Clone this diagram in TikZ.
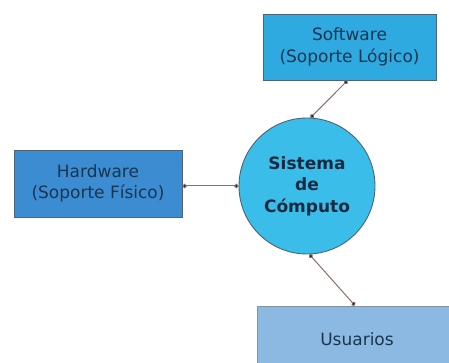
\documentclass[tikz,border=0pt]{standalone}
\usepackage{fontspec}
\setmainfont{DejaVu Sans}
\usepackage{xcolor}
\usepackage{tikz}
\usetikzlibrary{arrows.meta}
\definecolor{swblue}{HTML}{2EAAE0}
\definecolor{hwblue}{HTML}{3C8CD2}
\definecolor{scblue}{HTML}{3ABDE8}
\definecolor{usblue}{HTML}{8CB9E1}
\definecolor{edge}{HTML}{4C6478}
\definecolor{ink}{HTML}{1A3550}
\definecolor{link}{HTML}{8C7068}
\tikzset{
  box/.style={draw=edge, line width=0.9pt, align=center, text=ink,
    font=\fontsize{17}{21.5}\selectfont},
  core/.style={circle, draw=edge, line width=0.9pt, fill=scblue, align=center,
    text=ink!80!black, font=\fontsize{17}{21.5}\selectfont\bfseries,
    minimum size=136pt, inner sep=0pt},
  cline/.style={draw=link, line width=1pt, {Circle[length=4.5pt,fill=black]}-{Circle[length=4.5pt,fill=black]}}
}

\begin{document}
\begin{tikzpicture}[x=1pt, y=-1pt]
  \useasboundingbox (0,0) rectangle (449,363);
  \clip (0,0) rectangle (449,363);
  \fill[white] (0,0) rectangle (449,363);

  \node[core] (sc) at (307,186) {Sistema\\de\\Cómputo};
  \node[box, fill=swblue, minimum width=173pt, minimum height=66pt] (sw) at (349.5,47) {Software\\(Soporte Lógico)};
  \node[box, fill=hwblue, minimum width=168pt, minimum height=67pt] (hw) at (98,183.5) {Hardware\\(Soporte Físico)};
  \node[box, fill=usblue, draw=edge!70, minimum width=200pt, minimum height=70pt, text depth=4pt] (us) at (357,341) {Usuarios};

  \draw[cline] ([xshift=-2pt]sw.south) -- (sc.87);
  \draw[cline] (hw.east |- sc.west) -- (sc.west);
  \draw[cline] (sc.272) -- ([xshift=-2pt]us.north);
\end{tikzpicture}
\end{document}
